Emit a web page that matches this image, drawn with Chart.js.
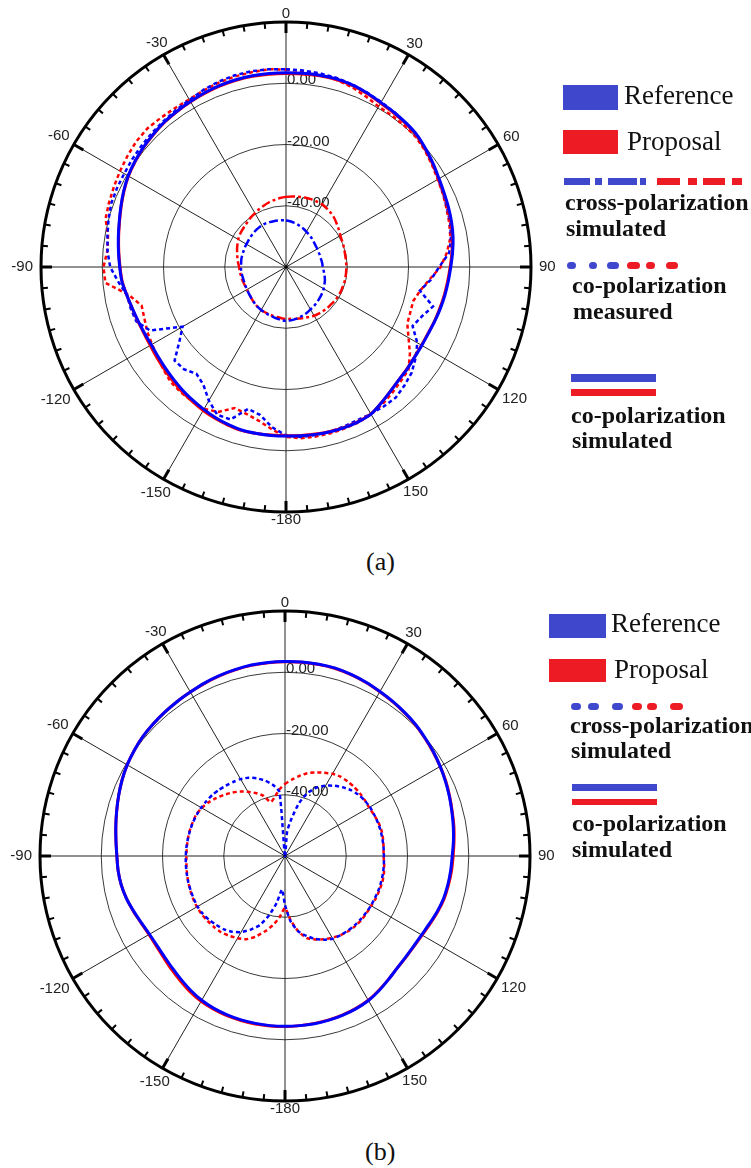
<!DOCTYPE html>
<html><head><meta charset="utf-8">
<script src="https://cdn.jsdelivr.net/npm/chart.js@4/dist/chart.umd.min.js"></script>
<style>
html,body{margin:0;padding:0;background:#fff;width:751px;height:1168px;overflow:hidden;position:relative}
canvas{position:absolute;left:0}
.sw{position:absolute}
.dot{position:absolute;border-radius:4px}
.t{position:absolute;font-family:"Liberation Serif","Times New Roman",serif;color:#111;white-space:nowrap;line-height:1}
.leg{font-size:27px}
.b{font-weight:bold;font-size:24px}
.cap{font-size:26px}
</style></head>
<body>
<canvas id="ca" width="572" height="534" style="top:0"></canvas>
<canvas id="cb" width="570" height="534" style="top:589px"></canvas>

<!-- legend (a) -->
<div class="sw" style="left:563px;top:85px;width:55px;height:25px;background:#3F48CC"></div>
<div class="t leg" style="left:624px;top:82px">Reference</div>
<div class="sw" style="left:563px;top:130px;width:55px;height:24px;background:#ED1C24"></div>
<div class="t leg" style="left:627px;top:128px">Proposal</div>
<div class="sw" style="left:564px;top:178px;width:26px;height:7px;background:#3F48CC"></div>
<div class="sw" style="left:595px;top:178px;width:7px;height:7px;background:#3F48CC"></div>
<div class="sw" style="left:608px;top:178px;width:29px;height:7px;background:#3F48CC"></div>
<div class="sw" style="left:640px;top:178px;width:6px;height:7px;background:#3F48CC"></div>
<div class="sw" style="left:657px;top:178px;width:23px;height:7px;background:#ED1C24"></div>
<div class="sw" style="left:688px;top:178px;width:9px;height:7px;background:#ED1C24"></div>
<div class="sw" style="left:703px;top:178px;width:22px;height:7px;background:#ED1C24"></div>
<div class="sw" style="left:732px;top:178px;width:10px;height:7px;background:#ED1C24"></div>
<div class="t b" style="left:565px;top:190px">cross-polarization</div>
<div class="t b" style="left:566px;top:216px">simulated</div>
<div class="dot" style="left:567px;top:262px;width:9px;height:7px;background:#3F48CC"></div>
<div class="dot" style="left:589px;top:262px;width:8px;height:7px;background:#3F48CC"></div>
<div class="dot" style="left:607px;top:262px;width:12px;height:7px;background:#3F48CC"></div>
<div class="dot" style="left:627px;top:262px;width:13px;height:7px;background:#ED1C24"></div>
<div class="dot" style="left:646px;top:262px;width:9px;height:7px;background:#ED1C24"></div>
<div class="dot" style="left:666px;top:262px;width:12px;height:7px;background:#ED1C24"></div>
<div class="t b" style="left:572px;top:273px">co-polarization</div>
<div class="t b" style="left:573px;top:299px">measured</div>
<div class="sw" style="left:571px;top:374px;width:85px;height:8px;background:#3F48CC"></div>
<div class="sw" style="left:571px;top:389px;width:85px;height:7px;background:#ED1C24"></div>
<div class="t b" style="left:571px;top:403px">co-polarization</div>
<div class="t b" style="left:572px;top:428px">simulated</div>
<div class="t cap" style="left:366px;top:549px">(a)</div>

<!-- legend (b) -->
<div class="sw" style="left:549px;top:614px;width:57px;height:24px;background:#3F48CC"></div>
<div class="t leg" style="left:611px;top:610px">Reference</div>
<div class="sw" style="left:549px;top:659px;width:57px;height:23px;background:#ED1C24"></div>
<div class="t leg" style="left:614px;top:656px">Proposal</div>
<div class="dot" style="left:571px;top:703px;width:10px;height:7px;background:#3F48CC"></div>
<div class="dot" style="left:588px;top:703px;width:11px;height:7px;background:#3F48CC"></div>
<div class="dot" style="left:612px;top:703px;width:11px;height:7px;background:#3F48CC"></div>
<div class="dot" style="left:632px;top:703px;width:10px;height:7px;background:#ED1C24"></div>
<div class="dot" style="left:647px;top:703px;width:10px;height:7px;background:#ED1C24"></div>
<div class="dot" style="left:670px;top:703px;width:13px;height:7px;background:#ED1C24"></div>
<div class="t b" style="left:570px;top:713px">cross-polarization</div>
<div class="t b" style="left:571px;top:738px">simulated</div>
<div class="sw" style="left:572px;top:784px;width:85px;height:7px;background:#3F48CC"></div>
<div class="sw" style="left:572px;top:799px;width:85px;height:6px;background:#ED1C24"></div>
<div class="t b" style="left:572px;top:811px">co-polarization</div>
<div class="t b" style="left:572px;top:837px">simulated</div>
<div class="t cap" style="left:365px;top:1139px">(b)</div>

<script>
// angle categories (deg, clockwise from top)
const angleCategories = [0,5,10,15,20,25,30,35,40,45,50,55,60,65,70,75,80,85,90,95,100,105,110,115,120,125,130,135,140,145,150,155,160,165,170,175,180,-175,-170,-165,-160,-155,-150,-145,-140,-135,-130,-125,-120,-115,-110,-105,-100,-95,-90,-85,-80,-75,-70,-65,-60,-55,-50,-45,-40,-35,-30,-25,-20,-15,-10,-5];
const angleTickValues = [0,30,60,90,120,150,180,-150,-120,-90,-60,-30];
const angleTickLabels = ['0','30','60','90','120','150','-180','-150','-120','-90','-60','-30'];
const radialTickValues = [-40,-20,0];
const radialTickLabels = ['-40.00','-20.00','0.00'];

// (a) co-polarization simulated
const coSimRefA = [3.4,3.5,3.6,3.6,3.3,2.7,2.0,1.6,1.2,0.7,-0.3,-1.3,
 -2.3,-3.0,-3.5,-4.0,-4.6,-5.4,-6.2,-6.8,-7.3,-7.8,-8.3,-8.7,
 -8.8,-8.7,-8.3,-7.9,-7.0,-5.8,-4.5,-4.2,-4.2,-4.3,-4.5,-4.7,
 -4.8,-4.8,-4.8,-4.8,-5.2,-5.7,-6.3,-6.9,-7.5,-8.1,-8.6,-9.0,
 -9.2,-9.0,-8.6,-8.0,-7.2,-6.2,-5.7,-5.1,-4.4,-3.6,-2.6,-1.5,
 -0.5,0.2,0.8,1.3,1.8,2.1,2.4,2.8,3.1,3.3,3.4,3.4];
const coSimPropA = [3.2,3.3,3.4,3.4,3.1,2.5,1.8,1.4,1.0,0.5,-0.5,-1.5,
 -2.5,-3.2,-3.7,-4.2,-4.8,-5.6,-6.4,-7.0,-7.5,-8.0,-8.4,-8.8,
 -8.9,-8.8,-8.4,-7.9,-7.0,-5.8,-4.6,-4.3,-4.3,-4.4,-4.6,-4.8,
 -4.9,-4.9,-4.8,-4.7,-5.0,-5.4,-5.9,-6.5,-7.0,-7.6,-8.1,-8.5,
 -8.8,-8.8,-8.5,-8.0,-7.2,-6.3,-5.8,-5.2,-4.5,-3.7,-2.7,-1.6,
 -0.6,0.1,0.7,1.2,1.7,2.0,2.3,2.6,2.9,3.1,3.2,3.2];
// (a) co-polarization measured
const coMeasRefA = [4.6,4.4,4.2,3.9,3.4,2.8,2.2,1.7,1.1,0.5,-0.5,-1.5,
 -2.5,-3.4,-4.0,-4.5,-5.3,-6.5,-10.0,-12.5,-15.6,-10.3,-12.8,-14.4,
 -10.5,-8.3,-6.4,-5.3,-4.3,-4.4,-4.6,-4.8,-4.6,-4.4,-4.3,-4.3,
 -5.0,-7.5,-11.0,-12.0,-7.0,-6.8,-9.6,-13.0,-14.5,-12.8,-12.5,-17.5,
 -21.0,-11.0,-8.0,-7.5,-7.3,-5.0,-2.6,-1.5,-0.8,0.0,0.7,0.9,
 1.0,1.3,1.6,1.9,2.2,2.6,3.0,3.8,4.4,4.8,4.9,4.8];
const coMeasPropA = [4.5,4.2,3.8,3.3,2.6,1.5,0.5,0.3,0.2,0.0,-0.8,-1.8,
 -2.8,-3.5,-4.2,-4.8,-5.5,-7.3,-9.5,-13.0,-15.5,-17.0,-16.8,-16.3,
 -13.8,-10.6,-7.8,-7.1,-6.2,-5.2,-4.5,-4.0,-3.9,-3.8,-3.8,-3.9,
 -4.5,-6.8,-9.0,-10.3,-11.0,-7.8,-6.5,-6.5,-6.6,-6.8,-7.8,-8.8,
 -9.5,-10.0,-10.8,-11.2,-7.8,-0.8,-0.4,-1.4,-1.0,1.0,1.5,2.0,
 2.6,3.2,3.8,4.0,3.6,3.3,3.2,3.6,4.1,4.4,4.6,4.8];
// (a) cross-polarization simulated
const crossSimRefA = [-44.8,-45.0,-45.3,-45.6,-46.0,-46.3,-46.7,-47.0,-47.3,-47.6,-47.9,-48.1,
 -48.2,-48.3,-48.3,-48.3,-48.2,-48.1,-48.0,-47.7,-47.3,-46.9,-46.5,-46.2,
 -45.8,-45.5,-45.2,-44.9,-44.6,-44.3,-44.0,-43.6,-43.3,-43.0,-42.7,-42.5,
 -42.4,-42.6,-42.9,-43.2,-43.4,-43.6,-43.8,-44.0,-44.3,-44.6,-44.9,-45.1,
 -45.3,-45.4,-45.5,-45.5,-45.4,-45.3,-45.3,-45.3,-45.2,-45.2,-45.2,-45.1,
 -45.1,-45.0,-44.8,-44.7,-44.5,-44.4,-44.3,-44.3,-44.4,-44.5,-44.6,-44.7];
const crossSimPropA = [-37.1,-36.9,-36.7,-36.5,-36.4,-36.4,-36.4,-36.7,-37.1,-37.6,-38.3,-38.9,
 -39.5,-39.8,-40.0,-40.2,-40.3,-40.3,-40.3,-40.3,-40.3,-40.3,-40.4,-40.4,
 -40.5,-40.7,-40.9,-41.0,-41.2,-41.4,-41.6,-42.0,-42.3,-42.6,-42.8,-43.0,
 -43.0,-43.2,-43.4,-43.5,-43.6,-43.7,-43.8,-44.0,-44.3,-44.6,-44.9,-45.2,
 -45.3,-45.3,-45.2,-45.1,-45.0,-44.8,-44.7,-44.3,-43.9,-43.5,-43.0,-42.5,
 -42.0,-41.6,-41.3,-41.0,-40.6,-40.1,-39.7,-39.2,-38.7,-38.2,-37.8,-37.4];

// (b) co-polarization simulated
const coSimRefB = [3.5,3.6,3.6,3.5,3.1,2.6,2.0,1.5,1.0,0.5,-0.2,-0.8,
 -1.5,-2.2,-2.9,-3.6,-4.2,-4.8,-5.4,-5.7,-6.0,-6.4,-7.1,-7.9,
 -8.5,-8.7,-8.6,-8.2,-7.4,-6.4,-5.5,-5.0,-4.7,-4.5,-4.4,-4.4,
 -4.4,-4.4,-4.5,-4.6,-4.8,-5.1,-5.6,-6.4,-7.3,-8.1,-8.7,-9.0,
 -8.9,-8.3,-7.4,-6.4,-5.7,-5.3,-5.1,-4.6,-3.9,-3.1,-2.2,-1.3,
 -0.5,0.1,0.6,0.9,1.2,1.5,1.8,2.3,2.7,3.0,3.3,3.4];
const coSimPropB = [3.4,3.5,3.5,3.4,3.0,2.5,1.9,1.4,0.9,0.4,-0.3,-0.9,
 -1.5,-2.1,-2.8,-3.5,-4.0,-4.6,-5.1,-5.4,-5.8,-6.2,-6.9,-7.7,
 -8.3,-8.6,-8.5,-8.2,-7.4,-6.5,-5.6,-5.1,-4.8,-4.6,-4.5,-4.4,
 -4.3,-4.3,-4.3,-4.4,-4.5,-4.8,-5.2,-5.9,-6.8,-7.6,-8.3,-8.7,
 -8.7,-8.2,-7.3,-6.4,-5.7,-5.3,-5.1,-4.6,-3.9,-3.1,-2.2,-1.3,
 -0.5,0.1,0.6,0.9,1.2,1.5,1.8,2.2,2.6,2.9,3.2,3.3];
// (b) cross-polarization simulated
const crossSimRefB = [-60,-52,-47.5,-42,-38,-35.3,-33.5,-32,-30.7,-29.6,-28.8,-28.3,
 -28.0,-27.9,-27.8,-27.7,-27.7,-27.7,-27.7,-27.6,-27.5,-27.5,-27.5,-27.6,
 -27.6,-27.7,-27.8,-27.9,-28.1,-28.4,-28.8,-29.8,-31.2,-33.0,-35.0,-38.5,
 -44.0,-49.0,-44.5,-40.0,-36.0,-33.5,-31.3,-29.8,-28.8,-28.2,-27.6,-27.2,
 -27.0,-27.1,-27.2,-27.3,-27.4,-27.5,-27.6,-27.7,-27.8,-27.9,-28.0,-28.2,
 -28.4,-28.7,-29.0,-29.5,-30.0,-30.5,-31.0,-31.8,-33.0,-34.5,-36.3,-39.0];
const crossSimPropB = [-36.5,-35.0,-33.5,-32.0,-31.0,-30.0,-29.0,-28.4,-28.2,-28.1,-28.1,-28.2,
 -28.3,-28.0,-27.6,-27.4,-27.5,-27.7,-27.8,-27.5,-27.2,-27.1,-27.2,-27.3,
 -27.5,-27.5,-27.5,-27.6,-27.9,-28.4,-29.2,-30.0,-31.0,-32.2,-35.0,-39.0,
 -43.0,-40.0,-37.0,-34.5,-32.0,-30.0,-29.0,-28.2,-27.5,-27.2,-27.0,-26.8,
 -26.8,-26.9,-27.1,-27.3,-27.5,-27.7,-27.8,-27.8,-27.8,-27.8,-27.9,-28.0,
 -28.6,-29.5,-30.6,-31.8,-33.0,-34.3,-35.8,-37.3,-39.0,-41.8,-40.5,-38.3];

const BLUE = '#0000FF', RED = '#FF0000';

const polarDeco = {
  id: 'polarDeco',
  beforeDatasetsDraw(chart) {
    const s = chart.scales.r;
    const ctx = chart.ctx;
    const R = s.drawingArea;
    ctx.save();
    // tick marks on outer circle
    ctx.strokeStyle = '#000';
    ctx.lineCap = 'butt';
    angleCategories.forEach((a, i) => {
      const major = a % 30 === 0;
      const len = major ? 11 : 6;
      const p1 = s.getPointPosition(i, R);
      const p2 = s.getPointPosition(i, R - len);
      ctx.beginPath();
      ctx.moveTo(p1.x, p1.y);
      ctx.lineTo(p2.x, p2.y);
      ctx.lineWidth = major ? 3 : 2;
      ctx.stroke();
    });
    // angle labels
    ctx.font = '15px "Liberation Sans", Arial, sans-serif';
    ctx.fillStyle = '#222';
    ctx.textAlign = 'center';
    ctx.textBaseline = 'middle';
    angleTickValues.forEach((v, k) => {
      const i = angleCategories.indexOf(v);
      const txt = angleTickLabels[k];
      const w = ctx.measureText(txt).width;
      const sinA = Math.abs(Math.sin(v * Math.PI / 180));
      const p = s.getPointPosition(i, R + 8 + sinA * w / 2);
      ctx.fillText(txt, p.x, p.y);
    });
    // radial labels
    ctx.textAlign = 'left';
    radialTickValues.forEach((v, k) => {
      const d = s.getDistanceFromCenterForValue(v);
      ctx.fillText(radialTickLabels[k], s.xCenter + 1, s.yCenter - d - 3);
    });
    // centre dot
    ctx.beginPath();
    ctx.arc(s.xCenter, s.yCenter, 1.8, 0, Math.PI * 2);
    ctx.fillStyle = '#000';
    ctx.fill();
    ctx.restore();
  }
};

function line(data, color, dash, width, tension) {
  return { data, borderColor: color, borderWidth: width, borderDash: dash,
           pointRadius: 0, fill: false, tension, backgroundColor: 'transparent' };
}

function makeOptions(pad) {
  return {
    responsive: false, animation: false, devicePixelRatio: 1, events: [],
    layout: { padding: pad },
    plugins: { legend: { display: false }, tooltip: { enabled: false } },
    scales: {
      r: {
        min: -60, max: 20,
        startAngle: 0,
        ticks: { stepSize: 20, display: false },
        pointLabels: { display: false },
        grid: {
          circular: true,
          color: (c) => (c.tick && c.tick.value === 20) ? '#000' : '#3a3a3a',
          lineWidth: (c) => (c.tick && c.tick.value === 20) ? 3 : ((c.tick && c.tick.value === -60) ? 0 : 1)
        },
        angleLines: {
          display: true,
          color: '#222',
          lineWidth: (c) => (angleCategories[c.index] % 30 === 0 ? 1 : 0)
        }
      }
    }
  };
}

new Chart(document.getElementById('ca'), {
  type: 'radar',
  data: {
    labels: angleCategories,
    datasets: [
      line(coSimRefA, BLUE, [], 3, 0.3),
      line(coSimPropA, RED, [], 3, 0.3),
      line(coMeasRefA, BLUE, [4, 3], 2.5, 0),
      line(coMeasPropA, RED, [4, 3], 2.5, 0),
      line(crossSimRefA, BLUE, [9, 3, 3, 3], 2.5, 0.3),
      line(crossSimPropA, RED, [9, 3, 3, 3], 2.5, 0.3)
    ]
  },
  options: makeOptions({ left: 41, right: 41, top: 22, bottom: 22 }),
  plugins: [polarDeco]
});

new Chart(document.getElementById('cb'), {
  type: 'radar',
  data: {
    labels: angleCategories,
    datasets: [
      line(coSimRefB, BLUE, [], 3, 0.3),
      line(coSimPropB, RED, [], 3, 0.3),
      line(crossSimRefB, BLUE, [4, 3], 2.5, 0.2),
      line(crossSimPropB, RED, [4, 3], 2.5, 0.2)
    ]
  },
  options: makeOptions({ left: 40, right: 40, top: 22, bottom: 22 }),
  plugins: [polarDeco]
});
</script>
</body></html>
